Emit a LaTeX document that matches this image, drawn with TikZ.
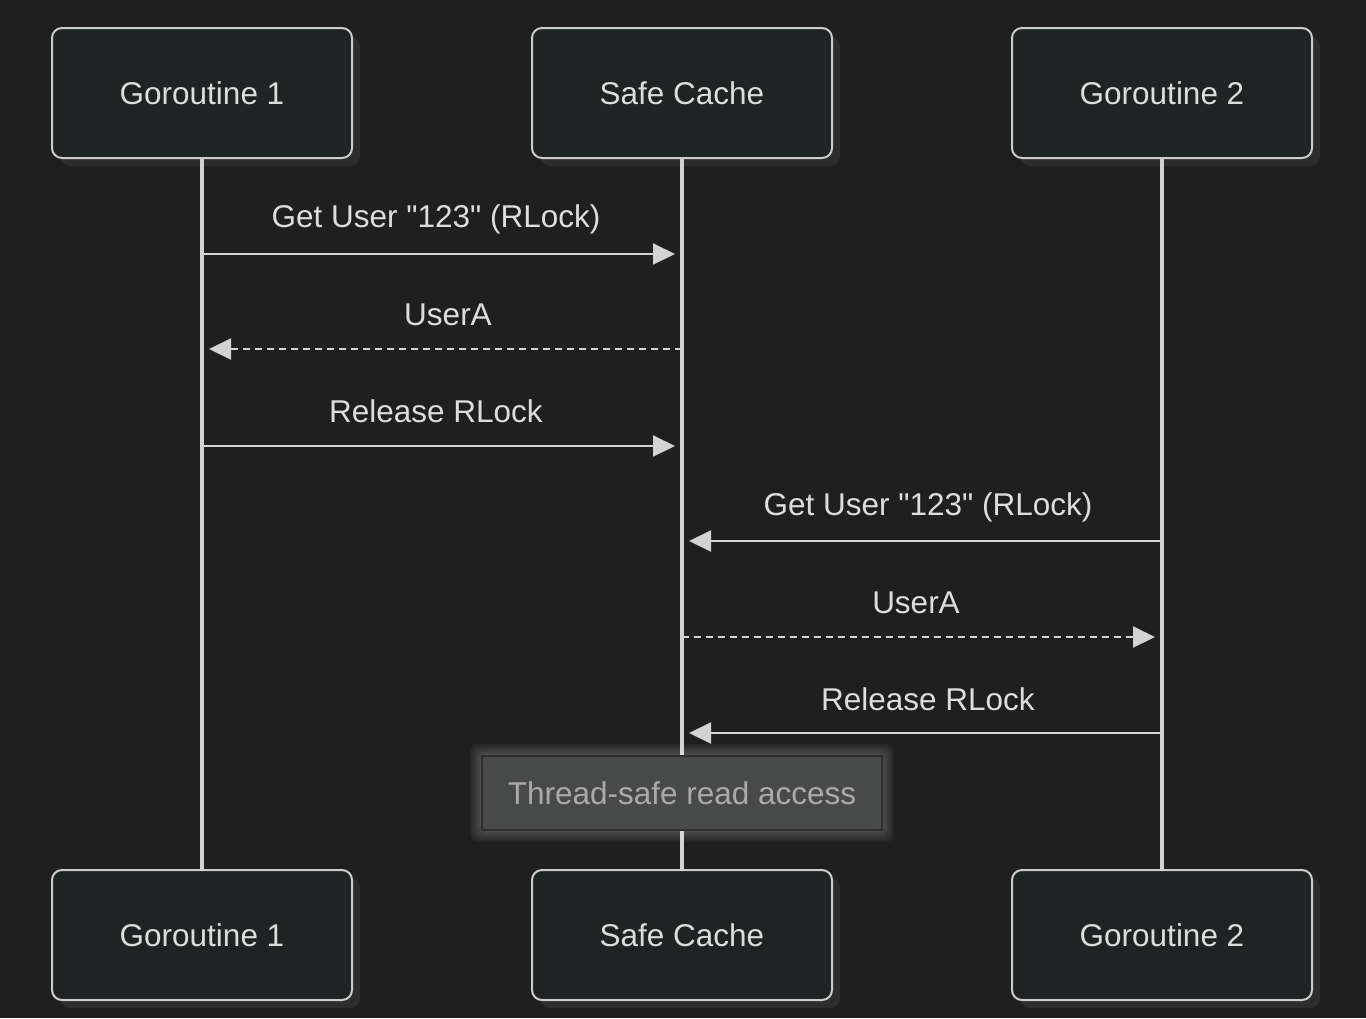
\documentclass[tikz,border=0pt]{standalone}
\usepackage{fontspec}
\setmainfont{Liberation Sans}[Ligatures=TeXOff]
\usetikzlibrary{arrows.meta,shadows}
\definecolor{bgc}{HTML}{1F1F1F}
\definecolor{boxfill}{HTML}{1E2324}
\definecolor{boxline}{HTML}{CCCCCC}
\definecolor{shadowc}{HTML}{2D2D2D}
\definecolor{txtc}{HTML}{DDDDDD}
\definecolor{linec}{HTML}{D3D3D3}
\definecolor{notefill}{HTML}{484A49}
\definecolor{noteline}{HTML}{2E2E2E}
\definecolor{notetxt}{HTML}{AAAAAA}
\tikzset{
  actor/.style={draw=boxline, line width=2pt, fill=boxfill, rounded corners=10pt,
    minimum width=300pt, minimum height=130pt, text=txtc,
    font=\fontsize{31.5}{37}\selectfont,
    general shadow={fill=shadowc, shadow xshift=8pt, shadow yshift=-8pt}},
  life/.style={draw=linec, line width=3.5pt},
  msg/.style={draw=linec, line width=2pt, -{Triangle[length=22pt,width=21pt]}, shorten >=7pt},
  dmsg/.style={msg, dash pattern=on 7pt off 5pt},
  lbl/.style={text=txtc, font=\fontsize{31.5}{37}\selectfont, inner sep=0pt},
  notebox/.style={draw=noteline, line width=2pt, fill=notefill, minimum width=400pt,
    minimum height=74pt, text=notetxt, font=\fontsize{31.5}{37}\selectfont},
  glow/.style={fill=white, fill opacity=0.04, draw=none, rounded corners=8pt}
}
\begin{document}
\begin{tikzpicture}[x=1pt,y=-1pt]
\useasboundingbox[fill=bgc] (0,0) rectangle (1366,1018);
% actors
\node[actor] (g1top) at (202,93) {Goroutine 1};
\node[actor] (sctop) at (682,93) {Safe Cache};
\node[actor] (g2top) at (1162,93) {Goroutine 2};
\node[actor] (g1bot) at (202,935) {Goroutine 1};
\node[actor] (scbot) at (682,935) {Safe Cache};
\node[actor] (g2bot) at (1162,935) {Goroutine 2};
% lifelines
\draw[life] (g1top.south) -- (g1bot.north);
\draw[life] (sctop.south) -- (scbot.north);
\draw[life] (g2top.south) -- (g2bot.north);
% message points
\foreach \n/\y in {1/254,2/349,3/446,4/541,5/637,6/733}{
  \coordinate (g1m\n) at (202,\y);
  \coordinate (scm\n) at (682,\y);
  \coordinate (g2m\n) at (1162,\y);
}
\draw[msg] (g1m1) -- (scm1);
\node[lbl] (l1) at (436,219) {Get User "123" (RLock)};
\draw[dmsg] (scm2) -- (g1m2);
\node[lbl] (l2) at (448,315) {UserA};
\draw[msg] (g1m3) -- (scm3);
\node[lbl] (l3) at (436,411) {Release RLock};
\draw[msg] (g2m4) -- (scm4);
\node[lbl] (l4) at (928,507) {Get User "123" (RLock)};
\draw[dmsg] (scm5) -- (g2m5);
\node[lbl] (l5) at (916,603) {UserA};
\draw[msg] (g2m6) -- (scm6);
\node[lbl] (l6) at (928,699) {Release RLock};
% note with glow
\foreach \g in {2,4,6,8,10,12}{
  \fill[glow] (482-\g,756-\g) rectangle (882+\g,830+\g);
}
\node[notebox] (note) at (682,793) {Thread-safe read access};
\end{tikzpicture}
\end{document}
